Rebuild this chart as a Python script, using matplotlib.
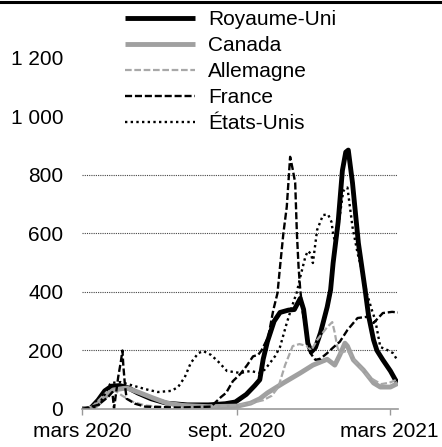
import matplotlib
matplotlib.use("Agg")
import matplotlib.pyplot as plt
from matplotlib.lines import Line2D
import pandas as pd

plt.rcParams["font.family"] = ["Liberation Sans", "DejaVu Sans"]

start = pd.Timestamp("2020-03-01")
end = pd.Timestamp("2021-03-11")

# days since 1 March 2020, new cases per million (7-day average)
uk_days = [0, 10, 19, 27, 35, 45, 55, 66, 82, 100, 125, 150, 170, 182, 195, 205, 211, 215, 220,
           228, 235, 245, 252, 259, 263, 268, 272, 277, 283, 291, 295, 298, 304, 309, 313, 316,
           321, 328, 336, 340, 346, 350, 357, 366, 372, 375]
uk_vals = [0, 2, 30, 62, 78, 80, 72, 55, 35, 20, 14, 14, 18, 24, 50, 80, 100, 170, 230,
           300, 330, 338, 340, 378, 340, 225, 195, 210, 260, 349, 407, 499, 640, 815, 878, 885,
           773, 567, 407, 320, 236, 200, 168, 130, 99, 90]

ca_days = [0, 12, 18, 30, 37, 53, 69, 84, 101, 120, 150, 185, 200, 211, 220, 239, 259, 274,
           291, 300, 306, 312, 315, 322, 334, 346, 354, 366, 375]
ca_vals = [0, 3, 14, 48, 65, 72, 55, 38, 20, 12, 8, 10, 20, 35, 55, 89, 123, 150,
           170, 150, 185, 225, 215, 168, 133, 89, 75, 75, 88]

de_days = [0, 10, 20, 30, 38, 48, 60, 75, 100, 150, 180, 200, 215, 225, 233, 241, 250, 258,
           267, 272, 279, 291, 297, 300, 303, 306, 315, 325, 340, 355, 365, 375]
de_vals = [0, 3, 30, 60, 65, 45, 25, 12, 6, 8, 12, 20, 30, 45, 75, 150, 215, 222,
           215, 200, 236, 280, 297, 260, 212, 190, 200, 160, 110, 85, 90, 102]

fr_days = [0, 19, 31, 36, 38, 43, 46, 48, 49, 51, 53, 63, 75, 114, 153, 165, 171, 179, 188,
           196, 203, 209, 213, 221, 227, 232, 235, 239, 243, 247, 250, 253, 255, 257, 259, 262,
           267, 271, 277, 283, 291, 298, 306, 315, 327, 338, 346, 357, 368, 375]
fr_vals = [0, 14, 41, 58, 2, 110, 160, 200, 150, 80, 35, 18, 8, 5, 8, 41, 55, 95, 120,
           150, 180, 185, 200, 246, 338, 396, 486, 601, 691, 862, 820, 773, 601, 486, 407, 330,
           250, 191, 168, 172, 191, 210, 230, 270, 311, 315, 294, 328, 332, 330]

us_days = [0, 12, 19, 27, 34, 46, 58, 75, 90, 106, 114, 122, 129, 138, 144, 153, 162, 172,
           188, 200, 211, 217, 223, 229, 235, 243, 249, 255, 259, 265, 268, 272, 274, 279, 286,
           292, 296, 298, 301, 304, 310, 315, 321, 327, 333, 338, 344, 348, 354, 362, 369, 374]
us_vals = [0, 2, 10, 50, 89, 92, 82, 68, 58, 62, 75, 109, 157, 191, 198, 185, 161, 130,
           123, 130, 123, 135, 157, 180, 212, 294, 349, 400, 451, 520, 540, 530, 499, 612, 663,
           665, 640, 600, 560, 620, 745, 757, 622, 533, 465, 396, 338, 304, 212, 202, 191, 168]

series = [
    ("Royaume-Uni", uk_days, uk_vals, dict(color="black", lw=3.5, ls="-")),
    ("Canada", ca_days, ca_vals, dict(color="#a0a0a0", lw=3.5, ls="-")),
    ("Allemagne", de_days, de_vals, dict(color="#a8a8a8", lw=1.6, ls=(0, (3, 1.2)))),
    ("France", fr_days, fr_vals, dict(color="black", lw=1.7, ls=(0, (3, 1.2)))),
    ("États-Unis", us_days, us_vals, dict(color="black", lw=1.7, ls=(0, (1, 1.4)))),
]

yticks = [0, 200, 400, 600, 800, 1000, 1200]
xticks = ["2020-03-01", "2020-09-01", "2021-03-01"]
xlabels = ["mars 2020", "sept. 2020", "mars 2021"]

fig = plt.figure(figsize=(4.42, 4.47), dpi=100)
ax = fig.add_axes([82 / 442, 38 / 447, 316 / 442, 409 / 447])

for name, d, v, style in series:
    dates = start + pd.to_timedelta(d, unit="D")
    ax.plot(dates, v, label=name, solid_capstyle="butt", **style)

for y in [200, 400, 600, 800]:
    ax.axhline(y, color="#444444", lw=0.8, ls=(0, (1, 1)), zorder=0)

ax.set_xlim(start, end)
ax.set_ylim(0, 1398)
ax.set_yticks(yticks)
ax.set_yticklabels([f"{t:,}".replace(",", " ") for t in yticks])
ax.set_xticks(pd.to_datetime(xticks))
ax.set_xticklabels(xlabels)
ax.tick_params(axis="y", length=0, pad=13.5, labelsize=15)
ax.tick_params(axis="x", length=4.5, width=1, color="#999999", direction="out", pad=5, labelsize=15)

for s in ["top", "right", "left"]:
    ax.spines[s].set_visible(False)
ax.spines["bottom"].set_color("#999999")
ax.spines["bottom"].set_linewidth(1.2)

ax.legend(loc="upper left", bbox_to_anchor=(0.122, 0.985), frameon=False, fontsize=15,
          handlelength=3.37, handletextpad=0.62, labelspacing=0.33, borderpad=0.2,
          borderaxespad=0)

fig.add_artist(Line2D([0, 1], [1 - 1.5 / 447, 1 - 1.5 / 447], color="black", lw=2.2))

fig.savefig("out.png", dpi=100)
